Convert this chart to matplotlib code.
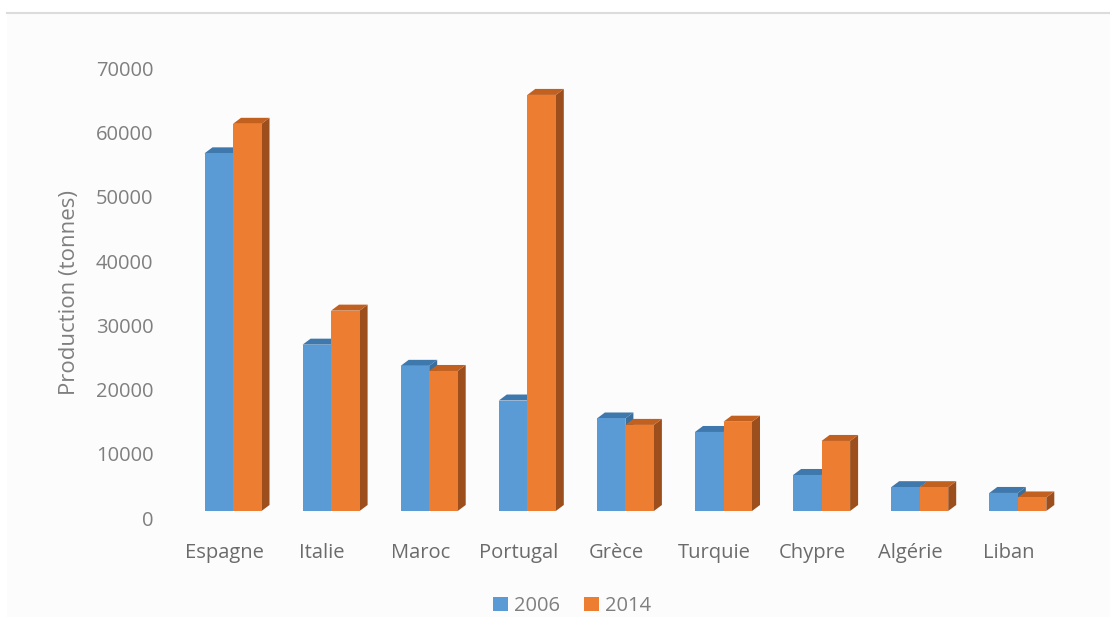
import matplotlib
matplotlib.use("Agg")
import matplotlib.pyplot as plt
import matplotlib.transforms as mtransforms
from matplotlib.patches import Polygon, Rectangle
import numpy as np

# ---- data ----
categories = ["Espagne", "Italie", "Maroc", "Portugal", "Grèce", "Turquie", "Chypre", "Algérie", "Liban"]
series_names = ["2006", "2014"]
values_2006 = [56800, 27000, 23700, 18300, 15500, 13400, 6700, 4800, 3900]
values_2014 = [61400, 32300, 22900, 65900, 14500, 15000, 12000, 4800, 3200]
yticks = [0, 10000, 20000, 30000, 40000, 50000, 60000, 70000]

# ---- styles ----
front_colors = ["#5B9BD5", "#ED7D31"]
top_colors = ["#3E78AC", "#C2601F"]
side_colors = ["#3A6E9C", "#9C4F1C"]
text_gray = "#7F7F7F"
label_gray = "#6B6B6B"

plt.rcParams['font.family'] = ['Open Sans', 'DejaVu Sans']

W, H = 1110, 617
fig = plt.figure(figsize=(W / 100, H / 100), dpi=100)
fig.patch.set_facecolor("white")

# panel background with top border
fig.add_artist(Rectangle((7 / W, 0), 1.0, (H - 13) / H, transform=fig.transFigure,
                         facecolor="#FCFCFC", edgecolor="none", zorder=-5))
fig.add_artist(plt.Line2D([7 / W, 1.0], [(H - 13) / H, (H - 13) / H], transform=fig.transFigure,
                          color="#DCDCDC", lw=1.5, zorder=-4))

ax_left, ax_right, ax_top, ax_bottom = 170, 1070, 50, 540
ax = fig.add_axes([ax_left / W, 1 - ax_bottom / H, (ax_right - ax_left) / W, (ax_bottom - ax_top) / H])
ax.set_facecolor("none")

px_per_cat = 98.1
px_per_unit = 64.2 / 10000.0
cat0_px = 233
zero_px = 518
xmin = -(cat0_px - ax_left) / px_per_cat
xmax = xmin + (ax_right - ax_left) / px_per_cat
ymin = -(ax_bottom - zero_px) / px_per_unit
ymax = ymin + (ax_bottom - ax_top) / px_per_unit
ax.set_xlim(xmin, xmax)
ax.set_ylim(ymin, ymax)

bar_w = 28.5 / px_per_cat
dx = 8 / px_per_cat
dy = 6 / px_per_unit
base = 7 / px_per_unit

x = np.arange(len(categories))
series = [values_2006, values_2014]
z = 1
for i in range(len(categories)):
    for s, vals in enumerate(series):
        left = x[i] - bar_w + s * bar_w
        right = left + bar_w
        v = vals[i]
        side = Polygon([(right, base), (right + dx, base + dy), (right + dx, v + dy), (right, v)],
                       closed=True, facecolor=side_colors[s], edgecolor="none", zorder=z)
        top = Polygon([(left, v), (left + dx, v + dy), (right + dx, v + dy), (right, v)],
                      closed=True, facecolor=top_colors[s], edgecolor="none", zorder=z + 1)
        ax.add_patch(side)
        ax.add_patch(top)
        ax.bar(left, v - base, bottom=base, width=bar_w, align="edge",
               color=front_colors[s], edgecolor="none", zorder=z + 2,
               label=series_names[s] if i == 0 else None)
        z += 3

for sp in ax.spines.values():
    sp.set_visible(False)
ax.set_yticks(yticks)
ax.set_yticklabels([str(t) for t in yticks])
ax.set_xticks(x)
ax.set_xticklabels(categories)
ax.tick_params(axis="y", length=0, pad=12, labelsize=14.5, labelcolor=text_gray)
ax.tick_params(axis="x", length=0, pad=2, labelsize=14.5, labelcolor=label_gray)
offset = mtransforms.ScaledTranslation(-9 / 100, 0, fig.dpi_scale_trans)
for lab in ax.get_xticklabels():
    lab.set_transform(lab.get_transform() + offset)

ax.set_ylabel("Production (tonnes)", fontsize=16, color=text_gray)
ax.yaxis.set_label_coords((80 - ax_left) / (ax_right - ax_left), (ax_bottom - 292) / (ax_bottom - ax_top),
                          transform=ax.transAxes)

leg = fig.legend(loc="center", bbox_to_anchor=(572 / W, 1 - 606 / H), ncol=2, frameon=False,
                 fontsize=14.5, handlelength=0.75, handleheight=0.75, handletextpad=0.3,
                 columnspacing=1.2, labelcolor=text_gray)

fig.savefig("out.png", dpi=100, facecolor=fig.get_facecolor())
